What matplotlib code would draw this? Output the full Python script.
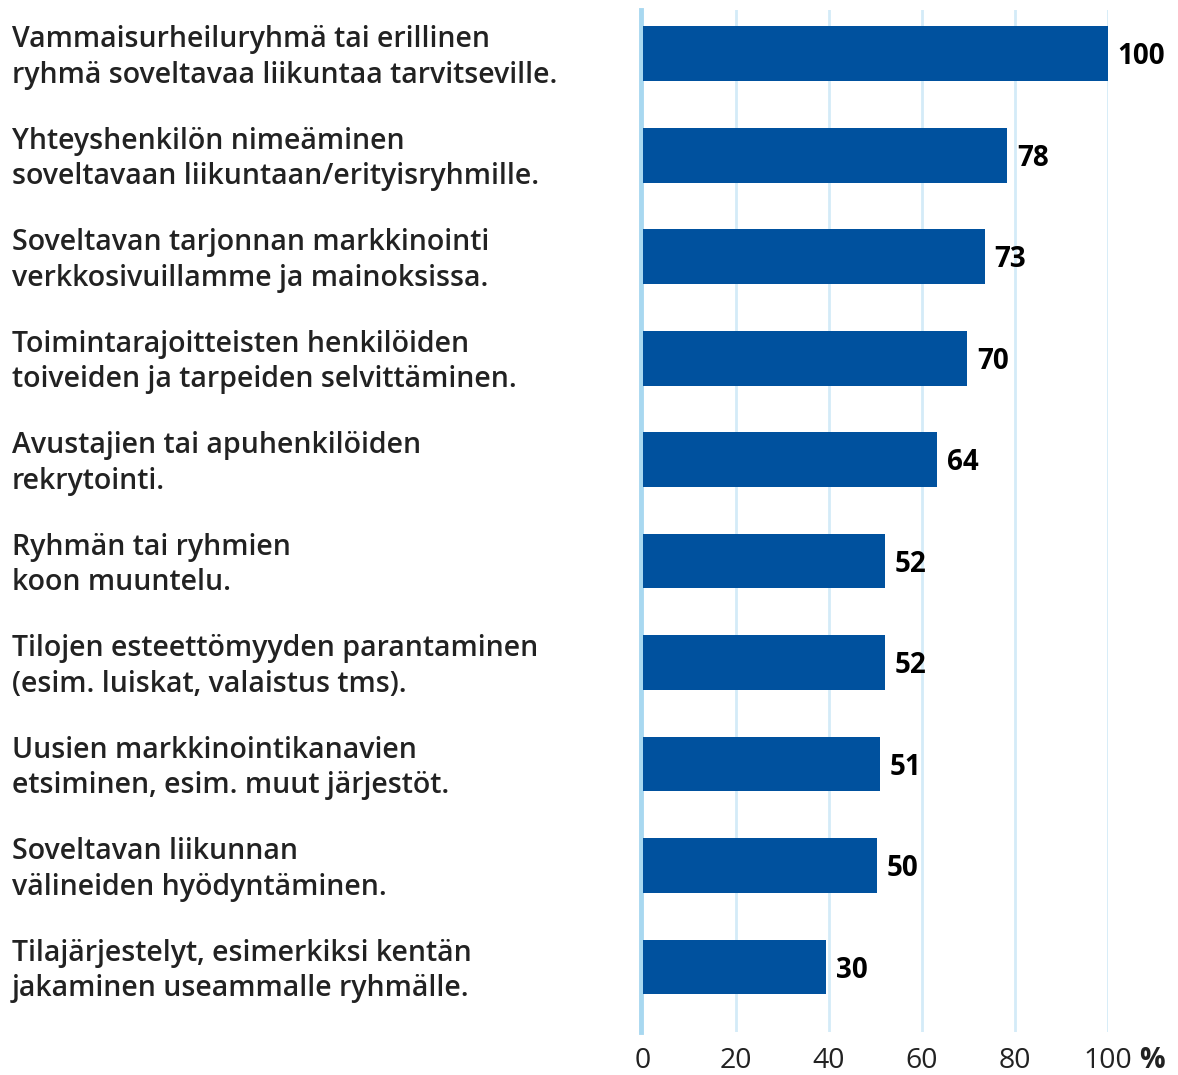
import matplotlib.pyplot as plt
import matplotlib.transforms as mtransforms

# --- Datos ---
kategoriat = [
    "Vammaisurheiluryhmä tai erillinen\nryhmä soveltavaa liikuntaa tarvitseville.",
    "Yhteyshenkilön nimeäminen\nsoveltavaan liikuntaan/erityisryhmille.",
    "Soveltavan tarjonnan markkinointi\nverkkosivuillamme ja mainoksissa.",
    "Toimintarajoitteisten henkilöiden\ntoiveiden ja tarpeiden selvittäminen.",
    "Avustajien tai apuhenkilöiden\nrekrytointi.",
    "Ryhmän tai ryhmien\nkoon muuntelu.",
    "Tilojen esteettömyyden parantaminen\n(esim. luiskat, valaistus tms).",
    "Uusien markkinointikanavien\netsiminen, esim. muut järjestöt.",
    "Soveltavan liikunnan\nvälineiden hyödyntäminen.",
    "Tilajärjestelyt, esimerkiksi kentän\njakaminen useammalle ryhmälle.",
]
# pituudet luettu kuvasta, tekstit ovat kuvan arvot
pituudet = [100, 78.3, 73.5, 69.7, 63.2, 52, 52, 51, 50.3, 39.4]
arvot = ["100", "78", "73", "70", "64", "52", "52", "51", "50", "30"]
x_ticks = [0, 20, 40, 60, 80, 100]

plt.rcParams['font.family'] = ['Open Sans', 'DejaVu Sans']

fig = plt.figure(figsize=(11.78, 10.75), dpi=100)
ax = fig.add_axes([643 / 1178, 1 - 1032 / 1075, (1108 - 643) / 1178, (1032 - 10) / 1075])

y = list(range(len(kategoriat)))
ax.barh(y, pituudet, height=0.54, color='#00519e', zorder=3)

ax.set_xlim(0, 100)
ax.set_ylim(9.64, -0.43)

# ruudukko
for t in x_ticks[1:]:
    ax.axvline(t, color='#d4ebf8', lw=2, zorder=1)
ax.axvline(-0.5, color='#a8d8f0', lw=3.5, zorder=2, clip_on=False)

for s in ax.spines.values():
    s.set_visible(False)
ax.set_yticks([])
ax.set_xticks(x_ticks)
ax.set_xticklabels([str(t) for t in x_ticks], fontsize=20.5, color='#222222', fontweight='medium')
ax.tick_params(axis='x', length=0, pad=11)

# arvot palkkien perään
for yi, p, a in zip(y, pituudet, arvot):
    ax.annotate(a, (p, yi + 0.03), xytext=(7, 0), textcoords='offset points',
                va='center', ha='left', fontsize=20, fontweight='bold', color='black')

# kategorioiden nimet vasemmalle
trans = mtransforms.blended_transform_factory(fig.transFigure, ax.transData)
for yi, k in zip(y, kategoriat):
    fig.text(12 / 1178, yi + 0.04, k, transform=trans, va='center', ha='left',
             fontsize=20.5, fontweight='semibold', color='#222222', linespacing=1.3)

fig.text(1152 / 1178, 1 - 1060 / 1075, "%", fontsize=20.5, fontweight='bold',
         color='#222222', ha='center', va='center')

plt.savefig('out.png', dpi=100)
